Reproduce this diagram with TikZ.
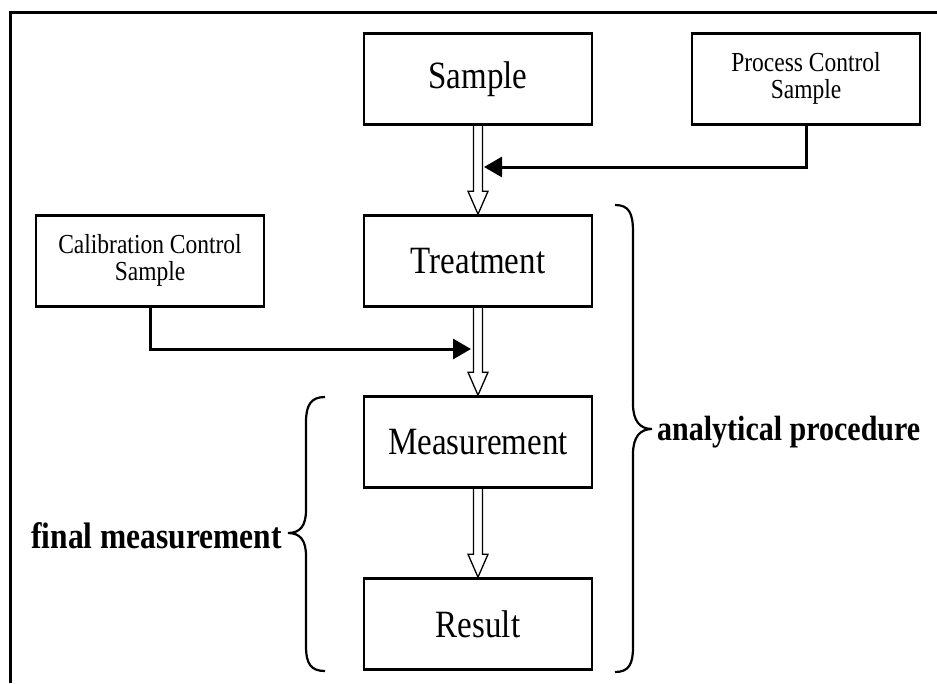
\documentclass[tikz,border=0pt]{standalone}
\usepackage{fontspec}
\setmainfont{Liberation Serif}
\usetikzlibrary{arrows.meta,calc}
\newcommand\vstretch[1]{\scalebox{1}[1.17]{#1}}
\newcommand\hollowarrow[2]{%
  \path let \p1=(#1.south), \p2=(#2.north) in
    [hollowarr] ({\x1-4.5pt},\y1) -- ({\x1-4.5pt},{\y2+23pt}) -- ({\x1-10pt},{\y2+23pt})
    -- (\x1,\y2) -- ({\x1+10pt},{\y2+23pt}) -- ({\x1+4.5pt},{\y2+23pt}) -- ({\x1+4.5pt},\y1);}
\begin{document}
\begin{tikzpicture}[x=1pt,y=-1pt,
  box/.style={draw,line width=2.6pt,minimum width=228pt,minimum height=91pt,inner sep=0pt,
    font=\fontsize{33}{38}\selectfont},
  sbox/.style={box,font=\fontsize{23.5}{20.5}\selectfont},
  ctrl/.style={line width=3pt,-{Triangle[length=18pt,width=20pt]}},
  hollowarr/.style={draw,line width=1.3pt,line join=miter},
  bracestyle/.style={line width=2.2pt},
  lbl/.style={inner sep=0pt}]
\useasboundingbox (0,0) rectangle (937,683);
\draw[line width=3pt] (10,683) -- (10,12) -- (937,12);

\node[box] (sample) at (478,79) {\vstretch{Sample}};
\node[sbox] (process) at (806,79) {\vstretch{\begin{tabular}{@{}c@{}}Process Control\\Sample\end{tabular}}};
\node[box] (treatment) at (478,261) {\vstretch{Treatment}};
\node[sbox] (calib) at (150,261) {\vstretch{\begin{tabular}{@{}c@{}}Calibration Control\\Sample\end{tabular}}};
\node[box] (measurement) at (478,442) {\vstretch{Measurement}};
\node[box] (result) at (478,624) {\vstretch{Result}};

\hollowarrow{sample}{treatment}
\hollowarrow{treatment}{measurement}
\hollowarrow{measurement}{result}

\coordinate (pin) at (484,167);
\coordinate (cin) at (471,349);
\draw[ctrl] (process.south) |- (pin);
\draw[ctrl] (calib.south) |- (cin);

\draw[bracestyle] (615,205) .. controls (629,205) and (633,213) .. (633,232) -- (633,404)
  .. controls (633,421) and (640,429) .. (652,429)
  .. controls (640,429) and (633,437) .. (633,454) -- (633,647)
  .. controls (633,664) and (629,672) .. (615,672);
\draw[bracestyle] (325,397) .. controls (311,397) and (306,405) .. (306,422) -- (306,510)
  .. controls (306,526) and (300,533) .. (288,533)
  .. controls (300,533) and (306,540) .. (306,556) -- (306,646)
  .. controls (306,664) and (311,671) .. (325,671);

\node[lbl,anchor=west,font=\fontsize{30}{36}\selectfont\bfseries] (ap) at (657,432) {\vstretch{analytical procedure}};
\node[lbl,anchor=east,font=\fontsize{31.5}{36}\selectfont\bfseries] (fm) at (282,536) {\vstretch{final measurement}};
\end{tikzpicture}
\end{document}
